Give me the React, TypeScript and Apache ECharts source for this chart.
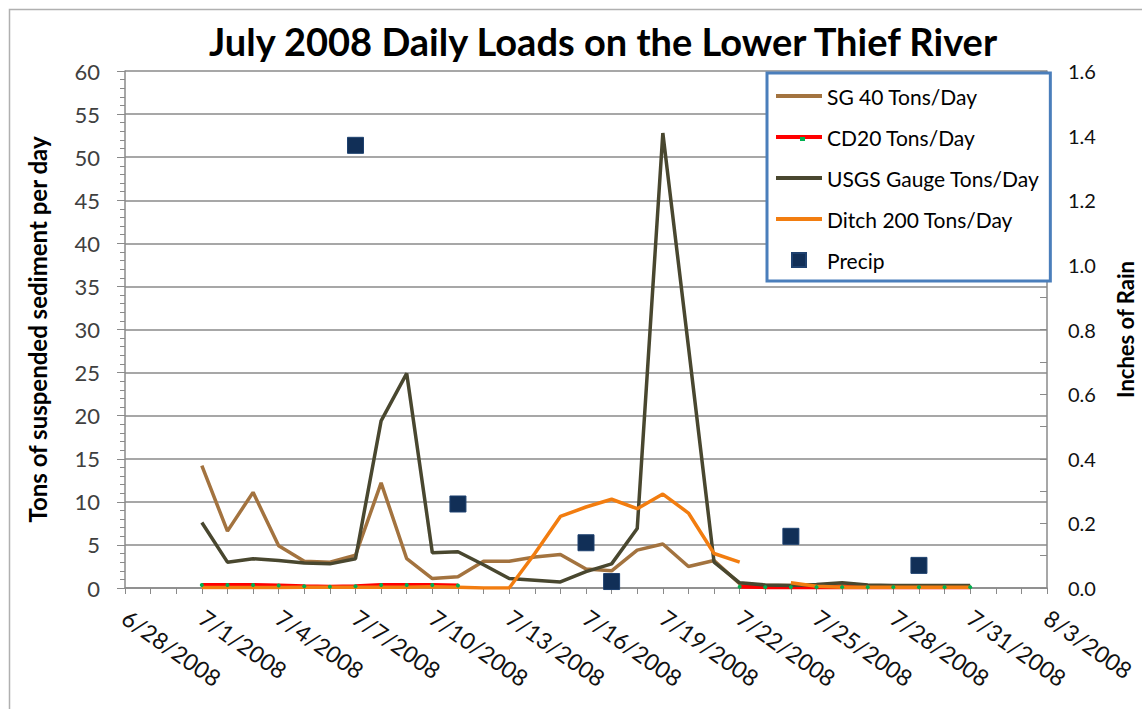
import { useEffect, useRef } from 'react';
import * as echarts from 'echarts';

const dates = [
  '6/28/2008', '6/29/2008', '6/30/2008', '7/1/2008', '7/2/2008', '7/3/2008', '7/4/2008', '7/5/2008',
  '7/6/2008', '7/7/2008', '7/8/2008', '7/9/2008', '7/10/2008', '7/11/2008', '7/12/2008', '7/13/2008',
  '7/14/2008', '7/15/2008', '7/16/2008', '7/17/2008', '7/18/2008', '7/19/2008', '7/20/2008', '7/21/2008',
  '7/22/2008', '7/23/2008', '7/24/2008', '7/25/2008', '7/26/2008', '7/27/2008', '7/28/2008', '7/29/2008',
  '7/30/2008', '7/31/2008', '8/1/2008', '8/2/2008', '8/3/2008',
];

// values per day, 6/28 .. 8/3 (null = no data)
const sg40 = [
  null, null, null,
  14.2, 6.6, 11.1, 4.9, 3.1, 3.0, 3.8, 12.2, 3.4, 1.1, 1.3, 3.1, 3.1, 3.6, 3.9, 2.2, 2.0, 4.4, 5.1, 2.5, 3.2,
  0.5, 0.3, 0.3, 0.3, 0.5, 0.3, 0.2, 0.2, 0.2, 0.2,
  null, null, null,
];
const cd20 = [
  null, null, null,
  0.35, 0.35, 0.35, 0.3, 0.2, 0.15, 0.2, 0.35, 0.35, 0.35, 0.3,
  null, null, null, null, null, null, null, null, null, null,
  0.15, 0.1, 0.1, 0.1, 0.1, 0.1, 0.1, 0.1, 0.1, 0.1,
  null, null, null,
];
const usgs = [
  null, null, null,
  7.6, 3.0, 3.4, 3.2, 2.9, 2.8, 3.4, 19.4, 24.9, 4.1, 4.2, 2.7, 1.1, 0.9, 0.7, 1.9, 2.8, 6.9, 52.8, 28.0, 3.0,
  0.6, 0.35, 0.3, 0.4, 0.6, 0.35, 0.3, 0.3, 0.3, 0.3,
  null, null, null,
];
const ditch200 = [
  null, null, null,
  0.05, 0.05, 0.05, 0.05, 0.1, 0.1, 0.1, 0.1, 0.1, 0.15, 0.1, 0, 0, 4.0, 8.3, 9.4, 10.3, 9.2, 10.9, 8.7, 4.0,
  3.0, null, 0.6, 0.2, 0.1, 0.1, 0.1, 0.1, 0.1, 0.1,
  null, null, null,
];
const precip = [
  null, null, null,
  null, null, null, null, null, null, 1.37, null, null, null, 0.26, null, null, null, null, 0.14, 0.02, null, null, null, null,
  null, null, 0.16, null, null, null, null, 0.07, null, null,
  null, null, null,
];

const leftTicks = { min: 0, max: 60, interval: 5 };
const rightTicks = { min: 0, max: 1.6, interval: 0.2 };

const names = ['SG 40 Tons/Day', 'CD20 Tons/Day', 'USGS Gauge Tons/Day', 'Ditch 200 Tons/Day', 'Precip'];
const colors = {
  sg40: '#a3733f',
  cd20: '#ff0000',
  cd20Marker: '#00b050',
  usgs: '#49472f',
  ditch: '#f27d10',
  precip: '#112f57',
};

const FONT = 'Lato, "Open Sans", sans-serif';
const barIcon = 'path://M0,0H46V4H0Z';
const squareIcon = 'path://M0,0H10V10H0Z';

export default function App() {
  const ref = useRef<HTMLDivElement>(null);
  useEffect(() => {
    const chart = echarts.init(ref.current!, null, { renderer: 'svg' });
    const axisGray = '#8a8a8a';
    chart.setOption({
      animation: false,
      backgroundColor: '#ffffff',
      textStyle: { fontFamily: FONT },
      title: {
        text: 'July 2008 Daily Loads on the Lower Thief River',
        left: 204,
        top: 17,
        textStyle: { fontSize: 38, fontWeight: 'bold', color: '#000', fontFamily: FONT },
      },
      grid: { left: 125, right: 95, top: 71, bottom: 121, containLabel: false, outerBoundsMode: 'none' },
      legend: {
        orient: 'vertical',
        left: 767,
        top: 73,
        padding: [12, 11, 10, 9],
        itemWidth: 46,
        itemHeight: 14,
        itemGap: 19,
        symbolKeepAspect: true,
        borderColor: '#4a7ebb',
        borderWidth: 3,
        backgroundColor: '#ffffff',
        textStyle: { fontSize: 21, color: '#000', fontFamily: FONT, lineHeight: 22 },
        data: [
          { name: names[0], icon: barIcon, itemStyle: { color: colors.sg40 } },
          { name: names[1], icon: barIcon, itemStyle: { color: colors.cd20 } },
          { name: names[2], icon: barIcon, itemStyle: { color: colors.usgs } },
          { name: names[3], icon: barIcon, itemStyle: { color: colors.ditch } },
          { name: names[4], icon: squareIcon, itemStyle: { color: colors.precip } },
        ],
      },
      xAxis: {
        type: 'category',
        data: dates,
        boundaryGap: false,
        axisLine: { lineStyle: { color: axisGray, width: 1.5 } },
        axisTick: { show: true, interval: 0, length: 6, lineStyle: { color: axisGray } },
        axisLabel: { interval: 2, rotate: -35, fontSize: 23, color: '#111', margin: 27, fontFamily: FONT, hideOverlap: false },
        splitLine: { show: false },
      },
      yAxis: [
        {
          type: 'value',
          min: leftTicks.min,
          max: leftTicks.max,
          interval: leftTicks.interval,
          name: 'Tons of suspended sediment per day',
          nameLocation: 'middle',
          nameGap: 76,
          nameRotate: 90,
          nameTextStyle: { fontSize: 24, fontWeight: 'bold', color: '#000', fontFamily: FONT },
          axisLine: { show: true, lineStyle: { color: axisGray, width: 1.5 } },
          axisTick: { show: true, length: 8, lineStyle: { color: axisGray } },
          minorTick: { show: true, splitNumber: 5, length: 5, lineStyle: { color: axisGray } },
          axisLabel: { fontSize: 22, color: '#404040', margin: 25, fontFamily: FONT },
          splitLine: { show: true, lineStyle: { color: axisGray, width: 1.5 } },
        },
        {
          type: 'value',
          min: rightTicks.min,
          max: rightTicks.max,
          interval: rightTicks.interval,
          position: 'right',
          name: 'Inches of Rain',
          nameLocation: 'middle',
          nameGap: 67,
          nameRotate: 90,
          nameTextStyle: { fontSize: 22, fontWeight: 'bold', color: '#000', fontFamily: FONT },
          axisLine: { show: true, lineStyle: { color: axisGray, width: 1.5 } },
          axisTick: { show: true, length: 7, inside: true, lineStyle: { color: axisGray } },
          minorTick: { show: true, splitNumber: 2, length: 7, lineStyle: { color: axisGray } },
          axisLabel: { fontSize: 20, color: '#111', margin: 21, fontFamily: FONT, formatter: (v: number) => v.toFixed(1) },
          splitLine: { show: false },
        },
      ],
      graphic: [
        {
          type: 'rect',
          left: 7,
          top: 7,
          shape: { x: 0, y: 0, width: 1150, height: 720 },
          style: { fill: 'none', stroke: '#b0b0b0', lineWidth: 1.5 },
          silent: true,
          z: -10,
        },
        {
          type: 'rect',
          left: 800,
          top: 137,
          shape: { x: 0, y: 0, width: 5, height: 4 },
          style: { fill: colors.cd20Marker },
          silent: true,
          z: 100,
        },
      ],
      series: [
        {
          name: names[0], type: 'line', data: sg40, yAxisIndex: 0, symbol: 'none', connectNulls: false,
          lineStyle: { color: colors.sg40, width: 3.5 }, itemStyle: { color: colors.sg40 },
        },
        {
          name: names[1], type: 'line', data: cd20, yAxisIndex: 0, symbol: 'circle', symbolSize: 4, showSymbol: true,
          connectNulls: false,
          lineStyle: { color: colors.cd20, width: 4 }, itemStyle: { color: colors.cd20Marker },
        },
        {
          name: names[2], type: 'line', data: usgs, yAxisIndex: 0, symbol: 'none', connectNulls: false,
          lineStyle: { color: colors.usgs, width: 3.5 }, itemStyle: { color: colors.usgs },
        },
        {
          name: names[3], type: 'line', data: ditch200, yAxisIndex: 0, symbol: 'none', connectNulls: false,
          lineStyle: { color: colors.ditch, width: 3.5 }, itemStyle: { color: colors.ditch },
        },
        {
          name: names[4], type: 'scatter', data: precip, yAxisIndex: 1, symbol: 'rect', symbolSize: 16,
          itemStyle: { color: colors.precip, borderColor: '#1e416f', borderWidth: 1, opacity: 1 },
        },
      ],
    });
    return () => chart.dispose();
  }, []);
  return (
    <div
      ref={ref}
      style={{ position: 'absolute', left: 0, top: 0, width: 1142, height: 709, background: '#fff' }}
    />
  );
}
